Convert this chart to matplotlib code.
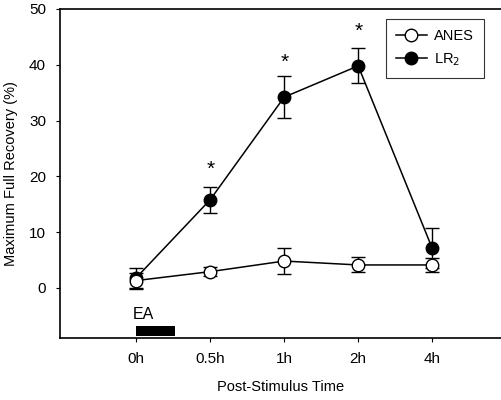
import matplotlib
matplotlib.use("Agg")
import matplotlib.pyplot as plt
from matplotlib.lines import Line2D

plt.rcParams["font.family"] = ["Liberation Sans", "DejaVu Sans"]

# data
time_labels = ["0h", "0.5h", "1h", "2h", "4h"]
anes_mean = [1.3, 2.9, 4.8, 4.1, 4.1]
anes_lo = [-0.2, 2.1, 2.5, 2.8, 2.9]
anes_hi = [2.6, 3.7, 7.1, 5.5, 5.3]
lr2_mean = [1.8, 15.8, 34.2, 39.8, 7.1]
lr2_lo = [0.0, 13.5, 30.5, 36.8, 3.5]
lr2_hi = [3.6, 18.0, 37.9, 43.0, 10.7]
star_idx = [1, 2, 3]
star_y = [21.2, 40.4, 46.0]
ea_start, ea_end = 0.0, 0.53

x = list(range(len(time_labels)))

fig = plt.figure(figsize=(5.01, 4.0), dpi=100)
ax = fig.add_axes([60 / 501, 1 - 338 / 400, 441 / 501, 329 / 400])


def err(mean, lo, hi):
    return [[m - l for m, l in zip(mean, lo)], [h - m for m, h in zip(mean, hi)]]


ax.errorbar(x, lr2_mean, yerr=err(lr2_mean, lr2_lo, lr2_hi), color="black",
            marker="o", markersize=9, markerfacecolor="black", lw=1.1,
            elinewidth=1, capsize=5, capthick=1, zorder=3)
ax.errorbar(x, anes_mean, yerr=err(anes_mean, anes_lo, anes_hi), color="black",
            marker="o", markersize=9, markerfacecolor="white", lw=1.1,
            elinewidth=1, capsize=5, capthick=1, zorder=4)

for i, s in zip(star_idx, star_y):
    ax.text(x[i], s, "*", ha="center", va="center", fontsize=15)

# EA stimulation bar
ax.fill_between([ea_start, ea_end], -8.7, -6.9, color="black", lw=0)
ax.text(0.1, -4.8, "EA", ha="center", va="center", fontsize=11.5)

ax.set_xlim(-1.03, 4.93)
ax.set_ylim(-9, 50)
ax.set_xticks(x)
ax.set_xticklabels(time_labels)
ax.set_yticks([0, 10, 20, 30, 40, 50])
ax.tick_params(labelsize=11, length=3, width=0.8, pad=7)
ax.spines["right"].set_visible(False)
for sp in ["top", "left", "bottom"]:
    ax.spines[sp].set_linewidth(1.2)

ax.set_ylabel("Maximum Full Recovery (%)", fontsize=10.5, labelpad=8)
ax.set_xlabel("Post-Stimulus Time", fontsize=10.5, labelpad=10)

handles = [
    Line2D([], [], color="black", marker="o", markersize=9, markerfacecolor="white", lw=1.1),
    Line2D([], [], color="black", marker="o", markersize=9, markerfacecolor="black", lw=1.1),
]
leg = ax.legend(handles, ["ANES", "LR$_2$"], loc="upper right",
                bbox_to_anchor=((487 - 60) / 441, 1 - 7 / 329), fontsize=10.5,
                frameon=True, fancybox=False, edgecolor="black",
                handlelength=2.1, handletextpad=0.5, borderpad=0.7,
                labelspacing=0.55, borderaxespad=0.2)
leg.get_frame().set_linewidth(0.8)

fig.savefig("out.png", dpi=100)
